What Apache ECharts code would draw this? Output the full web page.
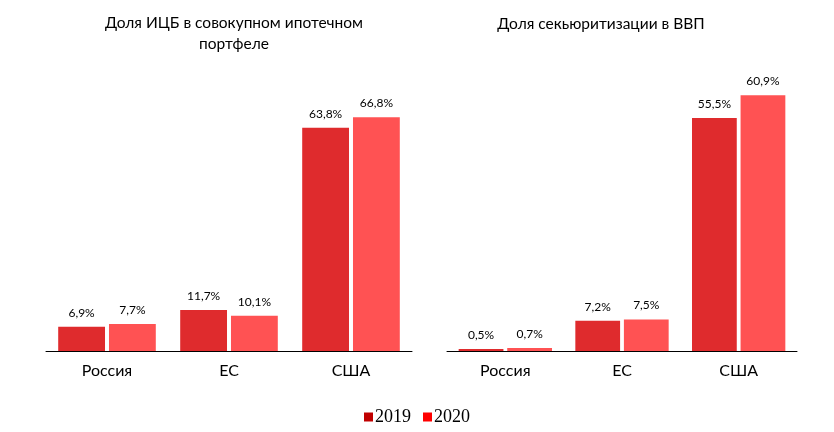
<!DOCTYPE html>
<html><head><meta charset="utf-8">
<script src="https://cdn.jsdelivr.net/npm/echarts@6/dist/echarts.min.js"></script>
<style>html,body{margin:0;padding:0;background:#fff}#c{width:834px;height:432px}</style>
</head><body><div id="c"></div>
<script>
const categories = ['Россия', 'ЕС', 'США'];
const seriesNames = ['2019', '2020'];
const leftTitle = 'Доля ИЦБ в совокупном ипотечном\nпортфеле';
const rightTitle = 'Доля секьюритизации в ВВП';
const left2019 = [6.9, 11.7, 63.8];
const left2020 = [7.7, 10.1, 66.8];
const right2019 = [0.5, 7.2, 55.5];
const right2020 = [0.7, 7.5, 60.9];

const FONT = 'Lato';
const C2019 = '#DF2B2D', C2020 = '#FF5253';
const fmt = p => p.value.toFixed(1).replace('.', ',') + '%';
const label = {show: true, position: 'top', distance: 8, color: '#000', fontSize: 12, fontFamily: FONT, formatter: fmt};
function xAx(i){return {type:'category', gridIndex:i, data:categories, axisTick:{show:false},
  axisLine:{lineStyle:{color:'#000', width:1}}, axisLabel:{color:'#000', fontSize:16, fontFamily:FONT, margin:12}};}
function yAx(i,max){return {type:'value', gridIndex:i, min:0, max:max, show:false, splitLine:{show:false}};}
function bar(name,data,i,color){return {type:'bar', name:name, data:data, xAxisIndex:i, yAxisIndex:i,
  barGap:'8.5%', barCategoryGap:'20%', itemStyle:{color:color}, label:label, emphasis:{disabled:true}};}

const chart = echarts.init(document.getElementById('c'));
chart.setOption({
  animation:false,
  title:[
    {text:leftTitle, left:229, top:7, textAlign:'center', textStyle:{fontFamily:FONT, fontSize:15.5, fontWeight:'normal', color:'#000', lineHeight:21}},
    {text:rightTitle, left:596, top:11, textAlign:'center', textStyle:{fontFamily:FONT, fontSize:15.5, fontWeight:'normal', color:'#000'}}
  ],
  legend:{data:[{name:'2019', itemStyle:{color:'#C00000'}},{name:'2020', itemStyle:{color:'#FF0000'}}],
    bottom:1, left:'center', itemWidth:9, itemHeight:9, itemGap:12, icon:'rect',
    textStyle:{fontFamily:'Liberation Serif', fontSize:18, color:'#000', padding:[0,0,0,-3]}},
  grid:[{left:46, width:366, top:71, bottom:81},{left:447, width:350, top:57, bottom:81}],
  xAxis:[xAx(0), xAx(1)],
  yAxis:[yAx(0,80), yAx(1,70)],
  series:[bar('2019',left2019,0,C2019), bar('2020',left2020,0,C2020), bar('2019',right2019,1,C2019), bar('2020',right2020,1,C2020)]
});
</script></body></html>
